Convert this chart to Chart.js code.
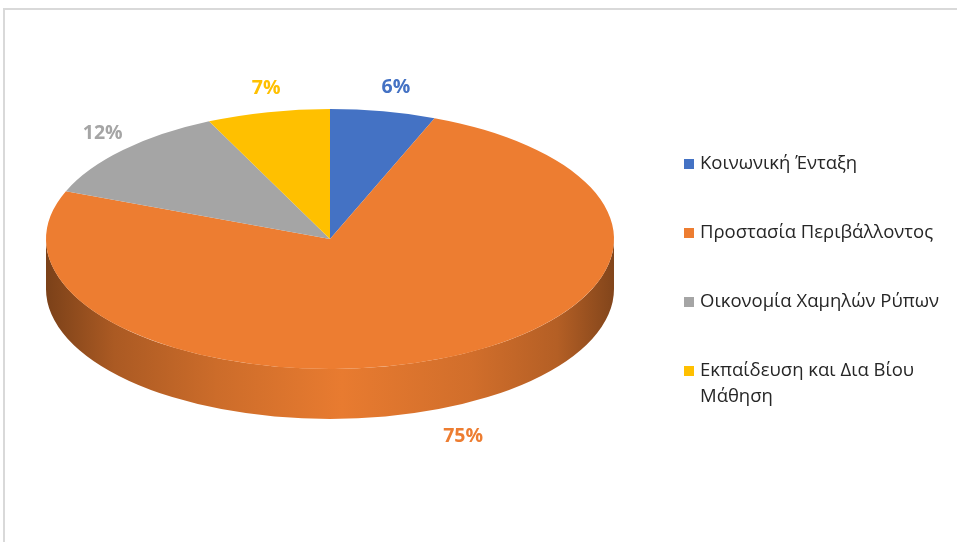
<!DOCTYPE html>
<html>
<head>
<meta charset="utf-8">
<script src="https://cdn.jsdelivr.net/npm/chart.js@4.4.1/dist/chart.umd.min.js"></script>
<style>
  html, body { margin: 0; padding: 0; background: #fff; }
  canvas { display: block; }
</style>
</head>
<body>
<canvas id="pie3d" width="957" height="542"></canvas>
<script>
// categories and shares
var categories = ['Κοινωνική Ένταξη', 'Προστασία Περιβάλλοντος', 'Οικονομία Χαμηλών Ρύπων', 'Εκπαίδευση και Δια Βίου Μάθηση'];
var shares = [6, 75, 12, 7];
var sliceColors = ['#4472c4', '#ed7d31', '#a5a5a5', '#ffc000'];

// tilted disc geometry (screen pixels)
var disc = { cx: 330, cy: 239, rx: 284, ry: 130, depth: 50 };
var labelFont = 'bold 19.5px "Open Sans", sans-serif';
var legendFont = '18.5px "Open Sans", sans-serif';

function shade(hex, f) {
  var n = parseInt(hex.slice(1), 16);
  var r = Math.round(((n >> 16) & 255) * f), g = Math.round(((n >> 8) & 255) * f), b = Math.round((n & 255) * f);
  return 'rgb(' + r + ',' + g + ',' + b + ')';
}

var tiltPlugin = {
  id: 'tilt',
  beforeDraw: function (chart) {
    var ctx = chart.ctx;
    ctx.save();
    ctx.strokeStyle = '#d9d9d9';
    ctx.lineWidth = 2;
    ctx.beginPath();
    ctx.moveTo(4, 560);
    ctx.lineTo(4, 9);
    ctx.lineTo(980, 9);
    ctx.stroke();
    ctx.restore();
  },
  beforeDatasetsDraw: function (chart) {
    var ctx = chart.ctx;
    var arcs = chart.getDatasetMeta(0).data;
    // side wall, only the front half of the disc is visible
    arcs.forEach(function (arc, i) {
      var a0 = Math.max(arc.startAngle, 0), a1 = Math.min(arc.endAngle, Math.PI);
      if (a1 <= a0) return;
      var col = sliceColors[i];
      var g = ctx.createLinearGradient(disc.cx - disc.rx, 0, disc.cx + disc.rx, 0);
      g.addColorStop(0, shade(col, 0.52));
      g.addColorStop(0.12, shade(col, 0.72));
      g.addColorStop(0.3, shade(col, 0.86));
      g.addColorStop(0.52, shade(col, 0.98));
      g.addColorStop(0.75, shade(col, 0.88));
      g.addColorStop(0.9, shade(col, 0.76));
      g.addColorStop(1, shade(col, 0.55));
      ctx.save();
      ctx.fillStyle = g;
      ctx.beginPath();
      ctx.ellipse(disc.cx, disc.cy, disc.rx, disc.ry, 0, a0, a1, false);
      ctx.ellipse(disc.cx, disc.cy + disc.depth, disc.rx, disc.ry, 0, a1, a0, true);
      ctx.closePath();
      ctx.fill();
      ctx.restore();
    });
    // squash the library's round pie into the top face
    var a = arcs[0];
    ctx.save();
    ctx.translate(disc.cx, disc.cy);
    ctx.scale(disc.rx / a.outerRadius, disc.ry / a.outerRadius);
    ctx.translate(-a.x, -a.y);
  },
  afterDatasetsDraw: function (chart) {
    var ctx = chart.ctx;
    ctx.restore();
    var arcs = chart.getDatasetMeta(0).data;
    var total = shares.reduce(function (s, v) { return s + v; }, 0);
    ctx.save();
    ctx.font = labelFont;
    ctx.textAlign = 'center';
    ctx.textBaseline = 'middle';
    arcs.forEach(function (arc, i) {
      var t = (arc.startAngle + arc.endAngle) / 2;
      var x = disc.cx + 6 + (disc.rx + 36) * Math.cos(t);
      var y = disc.cy + (disc.ry + 24) * Math.sin(t) + (Math.sin(t) > 0 ? disc.depth + 6 : 0);
      ctx.fillStyle = sliceColors[i];
      ctx.fillText(Math.round(shares[i] / total * 100) + '%', x, y);
    });
    ctx.restore();
  },
  afterDraw: function (chart) {
    var ctx = chart.ctx;
    ctx.save();
    ctx.font = legendFont;
    ctx.textBaseline = 'middle';
    var y = 164;
    categories.forEach(function (name, i) {
      // wrap long names
      var words = name.split(' '), lines = [], line = '';
      words.forEach(function (w) {
        var test = line ? line + ' ' + w : w;
        if (ctx.measureText(test).width > 245 && line) { lines.push(line); line = w; } else { line = test; }
      });
      lines.push(line);
      ctx.fillStyle = sliceColors[i];
      ctx.fillRect(684, y - 5, 10, 10);
      ctx.fillStyle = '#262626';
      lines.forEach(function (l, k) { ctx.fillText(l, 700, y + k * 26); });
      y += 69 + (lines.length - 1) * 26;
    });
    ctx.restore();
  }
};

new Chart(document.getElementById('pie3d'), {
  type: 'pie',
  data: {
    labels: categories,
    datasets: [{
      data: shares,
      backgroundColor: sliceColors,
      borderWidth: 0,
      clip: false
    }]
  },
  options: {
    responsive: false,
    animation: false,
    devicePixelRatio: 1,
    layout: { padding: 20 },
    plugins: {
      legend: { display: false },
      tooltip: { enabled: false }
    }
  },
  plugins: [tiltPlugin]
});
</script>
</body>
</html>
